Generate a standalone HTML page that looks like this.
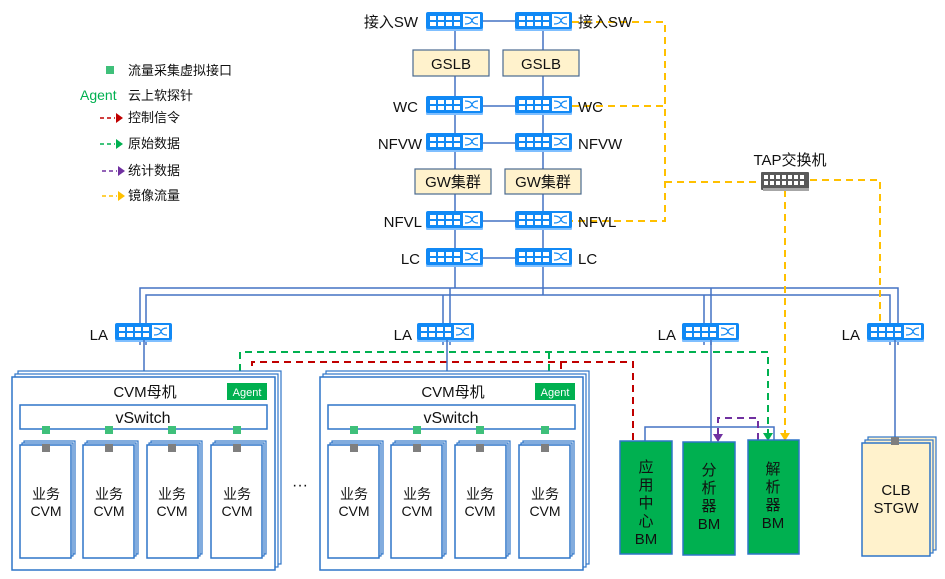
<!DOCTYPE html>
<html><head><meta charset="utf-8"><style>
html,body{margin:0;padding:0;background:#fff;}
svg{display:block;}
text{font-family:"Liberation Sans","Noto Sans CJK SC",sans-serif;fill:#111;}
</style></head><body>
<svg width="945" height="579" viewBox="0 0 945 579" xmlns="http://www.w3.org/2000/svg">
<defs>
<g id="sw">
<rect x="0" y="15" width="57" height="4" rx="1" fill="#7fbfff"/>
<rect x="0" y="0" width="57" height="17" rx="2" fill="#1189f5"/>
<rect x="4" y="4" width="6" height="4" fill="#fff"/><rect x="12" y="4" width="6" height="4" fill="#fff"/><rect x="20" y="4" width="6" height="4" fill="#fff"/><rect x="28" y="4" width="6" height="4" fill="#fff"/>
<rect x="4" y="10" width="6" height="4" fill="#fff"/><rect x="12" y="10" width="6" height="4" fill="#fff"/><rect x="20" y="10" width="6" height="4" fill="#fff"/><rect x="28" y="10" width="6" height="4" fill="#fff"/>
<rect x="37" y="2" width="17" height="13" fill="#fff"/>
<path d="M39 5 Q45 5 46 8.5 Q47 12 52 12 M39 12 Q45 12 46 8.5 Q47 5 52 5" stroke="#1189f5" stroke-width="1.2" fill="none"/>
</g>
<g id="host">
<rect x="18" y="371" width="263" height="193" fill="#fff" stroke="#2e75c8" stroke-width="1.2"/>
<rect x="15" y="374" width="263" height="193" fill="#fff" stroke="#2e75c8" stroke-width="1.2"/>
<rect x="12" y="377" width="263" height="193" fill="#fff" stroke="#2e75c8" stroke-width="1.5"/>
<text x="145" y="397" font-size="15" text-anchor="middle">CVM母机</text>
<rect x="227" y="383" width="40" height="17" fill="#00b050"/>
<text x="247" y="396" font-size="11" text-anchor="middle" style="fill:#fff">Agent</text>
<rect x="20" y="405" width="247" height="24" fill="#fff" stroke="#2e75c8" stroke-width="1.5"/>
<text x="143" y="423" font-size="16" text-anchor="middle">vSwitch</text>
<g fill="#3fc07a"><rect x="42" y="426" width="8" height="8"/><rect x="105" y="426" width="8" height="8"/><rect x="168" y="426" width="8" height="8"/><rect x="233" y="426" width="8" height="8"/></g>
<g fill="#fff" stroke="#2e75c8" stroke-width="1.2">
<rect x="24" y="441" width="51" height="113"/><rect x="22" y="443" width="51" height="113"/><rect x="20" y="445" width="51" height="113" stroke-width="1.5"/>
<rect x="87" y="441" width="51" height="113"/><rect x="85" y="443" width="51" height="113"/><rect x="83" y="445" width="51" height="113" stroke-width="1.5"/>
<rect x="151" y="441" width="51" height="113"/><rect x="149" y="443" width="51" height="113"/><rect x="147" y="445" width="51" height="113" stroke-width="1.5"/>
<rect x="215" y="441" width="51" height="113"/><rect x="213" y="443" width="51" height="113"/><rect x="211" y="445" width="51" height="113" stroke-width="1.5"/>
</g>
<g fill="#7f7f7f"><rect x="42" y="444" width="8" height="8"/><rect x="105" y="444" width="8" height="8"/><rect x="168" y="444" width="8" height="8"/><rect x="233" y="444" width="8" height="8"/></g>
<g font-size="14" text-anchor="middle">
<text x="46" y="499">业务</text><text x="46" y="516">CVM</text>
<text x="109" y="499">业务</text><text x="109" y="516">CVM</text>
<text x="172" y="499">业务</text><text x="172" y="516">CVM</text>
<text x="237" y="499">业务</text><text x="237" y="516">CVM</text>
</g>
</g>
</defs>

<!-- legend -->
<rect x="106" y="66" width="8" height="8" fill="#3fc07a"/>
<g font-size="13">
<text x="128" y="75">流量采集虚拟接口</text>
<text x="80" y="100" style="fill:#00b050" font-size="14">Agent</text><text x="128" y="100">云上软探针</text>
<text x="128" y="122">控制信令</text>
<text x="128" y="148">原始数据</text>
<text x="128" y="175">统计数据</text>
<text x="128" y="200">镜像流量</text>
</g>
<g stroke-width="1.5" fill="none" stroke-dasharray="4,3">
<path d="M100 118 H115" stroke="#c00000"/><path d="M100 144 H115" stroke="#00b050"/><path d="M102 171 H117" stroke="#7030a0"/><path d="M102 196 H117" stroke="#ffc000"/>
</g>
<path d="M116 113 L123 118 L116 123z" fill="#c00000"/><path d="M116 139 L123 144 L116 149z" fill="#00b050"/><path d="M118 166 L125 171 L118 176z" fill="#7030a0"/><path d="M118 191 L125 196 L118 201z" fill="#ffc000"/>

<!-- core -->
<g stroke="#4472c4" stroke-width="1.5" fill="none">
<path d="M455 21 V288 M543 21 V295"/>
<path d="M483 21 H515 M483 106 H515 M483 143 H515 M483 221 H515 M483 258 H515"/>
<path d="M140 345 V288 H898 V345 M146 345 V295 H890 V345"/>
<path d="M443 345 V295 M450 345 V288"/>
<path d="M704 345 V295 M711 345 V288"/>
<path d="M645 441 V427 H774 V440"/>
</g>

<!-- yellow mirror -->
<g stroke="#ffc000" stroke-width="2" fill="none" stroke-dasharray="7,5">
<path d="M572 22 H665 V221 H572 M572 106 H665 M665 182 H760 M810 180 H880 V323 M785 190 V434"/>
</g>
<path d="M780 433 L790 433 L785 441z" fill="#ffc000"/>

<g stroke="#00b050" stroke-width="2" fill="none" stroke-dasharray="7,5">
<path d="M240 383 V352 H768 V433 M549 383 V352"/>
</g>
<path d="M763 433 L773 433 L768 441z" fill="#00b050"/>
<g stroke="#c00000" stroke-width="2" fill="none" stroke-dasharray="7,5">
<path d="M633 440 V362 H252 V376 M561 362 V376"/>
</g>
<path d="M247 375 L257 375 L252 383z" fill="#c00000"/><path d="M556 375 L566 375 L561 383z" fill="#c00000"/>
<g stroke="#7030a0" stroke-width="2" fill="none" stroke-dasharray="7,5">
<path d="M758 440 V418 H718 V435"/>
</g>
<path d="M713 434 L723 434 L718 442z" fill="#7030a0"/>

<!-- switches -->
<use href="#sw" x="426" y="12"/><use href="#sw" x="515" y="12"/>
<use href="#sw" x="426" y="96"/><use href="#sw" x="515" y="96"/>
<use href="#sw" x="426" y="133"/><use href="#sw" x="515" y="133"/>
<use href="#sw" x="426" y="211"/><use href="#sw" x="515" y="211"/>
<use href="#sw" x="426" y="248"/><use href="#sw" x="515" y="248"/>
<use href="#sw" x="115" y="323"/><use href="#sw" x="417" y="323"/>
<use href="#sw" x="682" y="323"/><use href="#sw" x="867" y="323"/>

<g stroke="#4472c4" stroke-width="1.5" fill="none">
<path d="M144 340 V371 M447 340 V371 M711 340 V442 M895 340 V441"/>
</g>

<g font-size="15">
<text x="418" y="27" text-anchor="end">接入SW</text><text x="578" y="27">接入SW</text>
<text x="418" y="112" text-anchor="end">WC</text><text x="578" y="112">WC</text>
<text x="422" y="149" text-anchor="end">NFVW</text><text x="578" y="149">NFVW</text>
<text x="422" y="227" text-anchor="end">NFVL</text><text x="578" y="227">NFVL</text>
<text x="420" y="264" text-anchor="end">LC</text><text x="578" y="264">LC</text>
<text x="108" y="340" text-anchor="end">LA</text><text x="412" y="340" text-anchor="end">LA</text>
<text x="676" y="340" text-anchor="end">LA</text><text x="860" y="340" text-anchor="end">LA</text>
</g>

<g fill="#fff2cc" stroke="#4a6a90" stroke-width="1.2">
<rect x="413" y="50" width="76" height="26"/><rect x="503" y="50" width="76" height="26"/>
<rect x="415" y="169" width="76" height="25"/><rect x="505" y="169" width="76" height="25"/>
</g>
<g font-size="15" text-anchor="middle">
<text x="451" y="69">GSLB</text><text x="541" y="69">GSLB</text>
<text x="453" y="187">GW集群</text><text x="543" y="187">GW集群</text>
</g>

<text x="790" y="165" font-size="15" text-anchor="middle">TAP交换机</text>
<rect x="761" y="172" width="48" height="18" rx="1" fill="#595959"/>
<rect x="763" y="188" width="46" height="3" fill="#a6a6a6"/>
<g fill="#fff"><rect x="764" y="175" width="4" height="4"/><rect x="770" y="175" width="4" height="4"/><rect x="776" y="175" width="4" height="4"/><rect x="782" y="175" width="4" height="4"/><rect x="788" y="175" width="4" height="4"/><rect x="794" y="175" width="4" height="4"/><rect x="800" y="175" width="4" height="4"/>
<rect x="764" y="181" width="4" height="4"/><rect x="770" y="181" width="4" height="4"/><rect x="776" y="181" width="4" height="4"/><rect x="782" y="181" width="4" height="4"/><rect x="788" y="181" width="4" height="4"/><rect x="794" y="181" width="4" height="4"/><rect x="800" y="181" width="4" height="4"/></g>

<use href="#host"/>
<use href="#host" x="308"/>
<text x="300" y="490" font-size="16" text-anchor="middle">···</text>

<g fill="#00b050" stroke="#2e75c8" stroke-width="1.5">
<rect x="620" y="441" width="52" height="113"/><rect x="683" y="442" width="52" height="113"/><rect x="748" y="440" width="51" height="114"/>
</g>
<g font-size="15" text-anchor="middle">
<text x="646" y="472">应</text><text x="646" y="490">用</text><text x="646" y="508">中</text><text x="646" y="526">心</text><text x="646" y="544">BM</text>
<text x="709" y="475">分</text><text x="709" y="493">析</text><text x="709" y="511">器</text><text x="709" y="529">BM</text>
<text x="773" y="474">解</text><text x="773" y="492">析</text><text x="773" y="510">器</text><text x="773" y="528">BM</text>
</g>

<g fill="#fff2cc" stroke="#2e75c8" stroke-width="1.2">
<rect x="868" y="437" width="68" height="113"/><rect x="865" y="440" width="68" height="113"/><rect x="862" y="443" width="68" height="113" stroke-width="1.5"/>
</g>
<rect x="891" y="437" width="8" height="8" fill="#7f7f7f"/>
<text x="896" y="495" font-size="15" text-anchor="middle">CLB</text>
<text x="896" y="513" font-size="15" text-anchor="middle">STGW</text>
</svg>
</body></html>
